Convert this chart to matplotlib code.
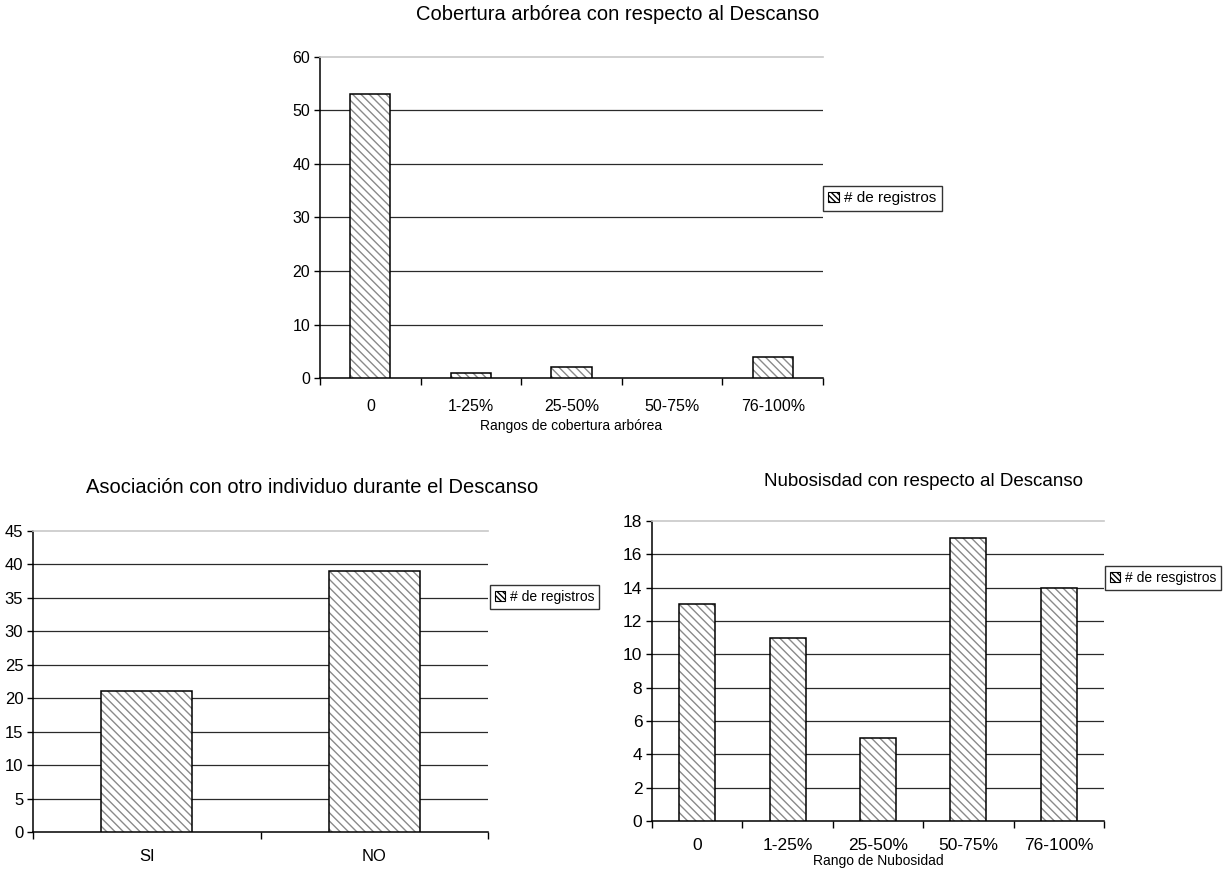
import matplotlib.pyplot as plt
from matplotlib.patches import Patch
import numpy as np

plt.rcParams['font.family'] = ['Liberation Sans', 'DejaVu Sans']
plt.rcParams['hatch.linewidth'] = 1.0

# Cobertura arborea
cob_cats = ["0", "1-25%", "25-50%", "50-75%", "76-100%"]
cob_vals = [53, 1, 2, 0, 4]

# Asociacion con otro individuo
asoc_cats = ["SI", "NO"]
asoc_vals = [21, 39]

# Nubosidad
nub_cats = ["0", "1-25%", "25-50%", "50-75%", "76-100%"]
nub_vals = [13, 11, 5, 17, 14]

HATCH = "\\\\\\\\"
HATCH_COLOR = "#8a8a8a"


def hatched_bars(ax, cats, vals, ymax, ystep, xlabel=None, legend_text=None,
                 legend_pos=None, tick_fs=11, tick_pad=14, label_pad=3,
                 legend_fs=11):
    x = np.arange(len(cats))
    w = 0.4
    vals = np.asarray(vals, dtype=float)
    ax.bar(x, vals, w, color="white", edgecolor=HATCH_COLOR, hatch=HATCH,
           linewidth=0, zorder=3)
    # outlines only where there is a bar to outline
    shown = vals > 0
    ax.bar(x[shown], vals[shown], w, fill=False, edgecolor="black",
           linewidth=1.1, zorder=4)

    ax.set_xlim(-0.5, len(cats) - 0.5)
    ax.set_ylim(0, ymax)
    yt = np.arange(0, ymax + ystep, ystep)
    ax.set_yticks(yt)
    for y in yt[1:-1]:
        ax.axhline(y, color="#2a2a2a", linewidth=0.9, zorder=1)

    ax.set_xticks(x)
    ax.set_xticklabels(cats, fontsize=tick_fs)
    ax.set_xticks(np.arange(len(cats) + 1) - 0.5, minor=True)
    ax.tick_params(axis="x", which="major", length=0, pad=tick_pad)
    ax.tick_params(axis="x", which="minor", length=5, width=1, direction="out")
    ax.tick_params(axis="y", length=4, width=1, labelsize=tick_fs, pad=3)

    ax.spines["right"].set_visible(False)
    ax.spines["top"].set_color("#c8c8c8")
    ax.spines["top"].set_linewidth(1.2)
    ax.spines["left"].set_linewidth(1.1)
    ax.spines["bottom"].set_linewidth(1.1)

    if xlabel:
        ax.set_xlabel(xlabel, fontsize=10, labelpad=label_pad)

    handle = Patch(facecolor="white", edgecolor="black", hatch="\\\\\\\\\\\\",
                   linewidth=0.8)
    ax.legend([handle], [legend_text], loc="center left",
              bbox_to_anchor=legend_pos, frameon=True, fancybox=False,
              edgecolor="black", fontsize=legend_fs, handlelength=0.7,
              handleheight=0.7, handletextpad=0.35, borderpad=0.35,
              borderaxespad=0)


fig = plt.figure(figsize=(12.28, 8.74), dpi=100)

ax1 = fig.add_axes([0.2606, 0.5675, 0.4096, 0.3673])
hatched_bars(ax1, cob_cats, cob_vals, 60, 10,
             xlabel="Rangos de cobertura arbórea",
             legend_text="# de registros", legend_pos=(1.0, 0.56),
             tick_fs=11.5, tick_pad=15, label_pad=4)
fig.text(0.503, 0.994, "Cobertura arbórea con respecto al Descanso",
         ha="center", va="top", fontsize=14.5)

ax2 = fig.add_axes([0.0269, 0.0481, 0.3705, 0.3444])
hatched_bars(ax2, asoc_cats, asoc_vals, 45, 5,
             legend_text="# de registros", legend_pos=(1.005, 0.78),
             tick_fs=12, tick_pad=12, legend_fs=10)
fig.text(0.254, 0.453, "Asociación con otro individuo durante el Descanso",
         ha="center", va="top", fontsize=14.5)

ax3 = fig.add_axes([0.531, 0.0606, 0.368, 0.3432])
hatched_bars(ax3, nub_cats, nub_vals, 18, 2,
             xlabel="Rango de Nubosidad",
             legend_text="# de resgistros", legend_pos=(1.003, 0.81),
             tick_fs=12.5, tick_pad=12, label_pad=1, legend_fs=10)
fig.text(0.752, 0.459, "Nubosisdad con respecto al Descanso",
         ha="center", va="top", fontsize=13.5)

fig.savefig("out.png", dpi=100)
